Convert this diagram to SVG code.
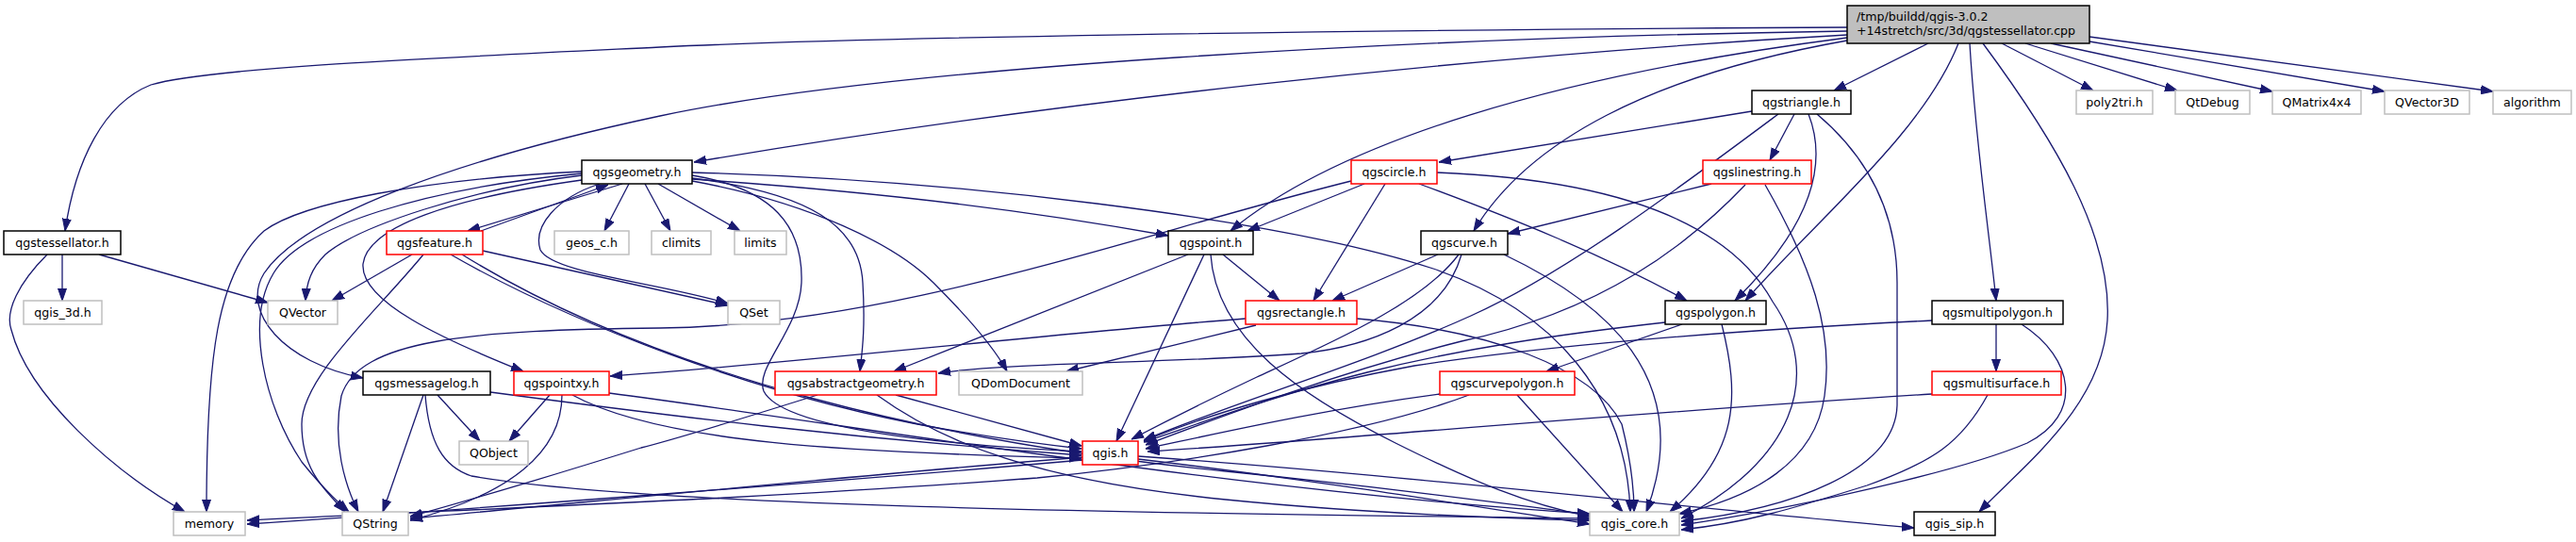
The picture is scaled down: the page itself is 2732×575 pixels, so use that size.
<svg xmlns="http://www.w3.org/2000/svg" width="2732" height="575" viewBox="0 0 2732 575">
<style>
.e{fill:none;stroke:#191970;stroke-width:1.3;marker-end:url(#arr)}
rect{fill:#fff;stroke-width:1.5}
.b rect{stroke:#000}
.r rect{stroke:#ff0000}
.g rect{stroke:#bfbfbf}
.root rect{fill:#bfbfbf;stroke:#000}
text{font-family:"DejaVu Sans","Liberation Sans",sans-serif;font-size:12.6px;fill:#000;text-anchor:middle}
.root text{text-anchor:start}
</style>
<defs>
<marker id="arr" viewBox="0 0 13 10" refX="13" refY="5" markerWidth="13" markerHeight="10" markerUnits="userSpaceOnUse" orient="auto">
<path d="M0,0.5 L13,5 L0,9.5 z" fill="#191970" stroke="#191970" stroke-width="1"/>
</marker>
</defs>
<rect x="0" y="0" width="2732" height="575" style="fill:#fff;stroke:none"/>
<g id="edges">
<!-- root -->
<path class="e" d="M1959,29 C1400,32 900,40 700,50 C450,62 220,72 160,90 C110,110 80,170 69,245"/>
<path class="e" d="M1959,37 C1550,60 1100,110 736,172"/>
<path class="e" d="M1959,33 C1500,40 950,70 700,123 C480,170 320,230 280,290 C255,330 300,385 385,401"/>
<path class="e" d="M1959,40 C1650,80 1420,150 1305,245"/>
<path class="e" d="M1959,43 C1750,80 1620,150 1563,245"/>
<path class="e" d="M2045,46 L1945,96"/>
<path class="e" d="M2077,46 C2040,140 1930,230 1851,319"/>
<path class="e" d="M2089,46 C2095,150 2110,250 2117,319"/>
<path class="e" d="M2103,46 C2180,150 2240,250 2235,340 C2230,430 2150,490 2099,543"/>
<path class="e" d="M2123,46 L2220,96"/>
<path class="e" d="M2148,46 L2309,96"/>
<path class="e" d="M2175,46 L2410,97"/>
<path class="e" d="M2216,44 L2529,97"/>
<path class="e" d="M2216,39 L2644,97"/>
<!-- qgstriangle -->
<path class="e" d="M1858,118 L1526,172"/>
<path class="e" d="M1903,121 L1877,170"/>
<path class="e" d="M1886,121 C1780,200 1660,290 1560,335 C1450,385 1300,430 1213,467"/>
<path class="e" d="M1918,121 C1945,190 1900,260 1840,319"/>
<path class="e" d="M1927,121 C1985,170 2012,230 2012,300 L2012,430 C2010,500 1900,540 1783,553"/>
<!-- qgscircle -->
<path class="e" d="M1447,195 L1323,245"/>
<path class="e" d="M1469,195 L1393,319"/>
<path class="e" d="M1505,195 C1600,230 1700,270 1789,319"/>
<path class="e" d="M1524,183 C1700,190 1830,230 1880,320 C1935,400 1900,490 1783,550"/>
<path class="e" d="M1433,192 C1200,250 950,345 700,348 C500,350 380,360 362,420 C352,470 366,515 380,543"/>
<!-- qgslinestring -->
<path class="e" d="M1815,195 L1599,248"/>
<path class="e" d="M1851,196 C1790,260 1700,330 1550,362 C1420,395 1300,440 1215,472"/>
<path class="e" d="M1872,196 C1920,280 1945,350 1935,420 C1925,490 1860,528 1781,545"/>
<!-- qgscurve -->
<path class="e" d="M1525,270 L1413,319"/>
<path class="e" d="M1550,270 C1530,340 1450,368 1380,375 C1250,385 1060,385 995,396"/>
<path class="e" d="M1547,270 C1510,320 1420,360 1333,400 C1280,425 1240,445 1200,466"/>
<path class="e" d="M1595,270 C1700,320 1800,400 1746,543"/>
<!-- qgspoint -->
<path class="e" d="M1297,270 L1357,319"/>
<path class="e" d="M1260,270 L948,394"/>
<path class="e" d="M1277,270 L1184,468"/>
<path class="e" d="M1284,270 C1290,360 1380,420 1480,470 C1560,510 1620,535 1686,548"/>
<!-- qgsrectangle -->
<path class="e" d="M1321,338 C1100,355 850,385 647,399"/>
<path class="e" d="M1332,345 L1131,394"/>
<path class="e" d="M1439,338 C1580,350 1690,390 1720,450 C1730,490 1733,520 1733,543"/>
<!-- qgspolygon -->
<path class="e" d="M1784,344 L1640,394"/>
<path class="e" d="M1766,342 C1650,355 1550,370 1450,395 C1350,420 1270,450 1213,469"/>
<path class="e" d="M1826,344 C1845,420 1845,480 1771,543"/>
<!-- qgscurvepolygon -->
<path class="e" d="M1527,418 C1400,435 1300,458 1215,476"/>
<path class="e" d="M1609,419 L1721,543"/>
<path class="e" d="M1558,419 C1450,460 1250,492 1100,507 C800,530 500,540 262,552"/>
<!-- qgsmultipolygon -->
<path class="e" d="M2117,344 L2117,394"/>
<path class="e" d="M2049,340 C1850,350 1650,365 1500,388 C1380,410 1280,440 1213,468"/>
<path class="e" d="M2144,344 C2200,380 2210,440 2150,470 C2080,500 1900,540 1783,557"/>
<!-- qgsmultisurface -->
<path class="e" d="M2049,418 C1700,440 1400,468 1217,479"/>
<path class="e" d="M2108,419 C2080,470 2050,490 1980,515 C1900,540 1850,555 1783,562"/>
<!-- qgsabstractgeometry -->
<path class="e" d="M950,419 L1147,473"/>
<path class="e" d="M930,419 C1000,470 1100,510 1300,530 C1450,545 1600,550 1686,552"/>
<path class="e" d="M867,419 C800,440 720,465 680,475 C600,500 500,530 435,548"/>
<!-- qgsgeometry -->
<path class="e" d="M660,195 L496,245"/>
<path class="e" d="M667,195 L641,245"/>
<path class="e" d="M684,195 L711,245"/>
<path class="e" d="M698,195 L785,245"/>
<path class="e" d="M734,190 C950,205 1100,225 1239,250"/>
<path class="e" d="M734,183 C1000,190 1350,230 1520,285 C1650,330 1725,420 1729,543"/>
<path class="e" d="M734,189 C860,205 912,240 915,300 C918,350 914,375 912,394"/>
<path class="e" d="M734,192 C860,215 950,260 990,300 C1030,340 1055,370 1068,394"/>
<path class="e" d="M734,186 C820,200 852,240 850,300 C848,350 800,390 810,415 C830,455 1000,472 1147,479"/>
<path class="e" d="M636,195 C590,210 565,240 573,265 C585,290 700,300 772,322"/>
<path class="e" d="M617,191 C480,210 390,240 385,280 C382,320 470,360 555,394"/>
<path class="e" d="M617,186 C500,200 380,240 345,270 C330,285 325,300 324,319"/>
<path class="e" d="M617,184 C450,200 320,240 290,290 C260,340 280,430 320,490 C340,515 355,530 370,543"/>
<path class="e" d="M617,182 C450,190 320,215 280,245 C230,290 219,380 219,543"/>
<!-- qgsfeature -->
<path class="e" d="M510,245 L645,196"/>
<path class="e" d="M437,270 L352,319"/>
<path class="e" d="M512,266 L772,324"/>
<path class="e" d="M449,270 C400,330 320,400 320,450 C320,500 345,520 366,543"/>
<path class="e" d="M478,270 C600,340 800,420 1000,455 C1070,467 1110,472 1147,476"/>
<path class="e" d="M490,270 C700,400 1000,470 1300,500 C1500,520 1600,535 1686,546"/>
<!-- qgstessellator -->
<path class="e" d="M66,270 L66,319"/>
<path class="e" d="M105,270 L284,321"/>
<path class="e" d="M50,270 C20,300 5,330 12,350 C30,420 120,500 196,543"/>
<!-- qgsmessagelog -->
<path class="e" d="M449,419 L406,543"/>
<path class="e" d="M464,419 L509,468"/>
<path class="e" d="M520,416 C700,440 900,465 1147,483"/>
<path class="e" d="M451,419 C455,470 470,495 500,505 C700,540 1300,545 1686,550"/>
<!-- qgspointxy -->
<path class="e" d="M583,419 L540,468"/>
<path class="e" d="M596,419 C596,480 540,525 435,552"/>
<path class="e" d="M607,419 C700,470 900,480 1147,486"/>
<path class="e" d="M646,417 C900,450 1300,520 1686,545"/>
<!-- qgis.h -->
<path class="e" d="M1148,488 C900,510 500,540 262,556"/>
<path class="e" d="M1148,485 C900,505 600,535 435,550"/>
<path class="e" d="M1207,487 C1400,510 1550,535 1686,556"/>
<path class="e" d="M1207,484 C1500,505 1800,540 2030,560"/>
</g>
<g id="root" class="root"><rect x="1959" y="6" width="257" height="40"/><text x="1969" y="21.5">/tmp/buildd/qgis-3.0.2</text><text x="1969" y="36.5">+14stretch/src/3d/qgstessellator.cpp</text></g>
<g id="qgstriangle" class="b"><rect x="1858" y="96" width="105" height="25"/><text x="1910.5" y="113">qgstriangle.h</text></g>
<g id="poly2tri" class="g"><rect x="2202" y="96" width="81" height="25"/><text x="2242.5" y="113">poly2tri.h</text></g>
<g id="QtDebug" class="g"><rect x="2307" y="96" width="79" height="25"/><text x="2346.5" y="113">QtDebug</text></g>
<g id="QMatrix4x4" class="g"><rect x="2410" y="96" width="94" height="25"/><text x="2457" y="113">QMatrix4x4</text></g>
<g id="QVector3D" class="g"><rect x="2529" y="96" width="90" height="25"/><text x="2574" y="113">QVector3D</text></g>
<g id="algorithm" class="g"><rect x="2644" y="96" width="83" height="25"/><text x="2685.5" y="113">algorithm</text></g>
<g id="qgsgeometry" class="b"><rect x="617" y="170" width="117" height="25"/><text x="675.5" y="187">qgsgeometry.h</text></g>
<g id="qgscircle" class="r"><rect x="1433" y="170" width="91" height="25"/><text x="1478.5" y="187">qgscircle.h</text></g>
<g id="qgslinestring" class="r"><rect x="1806" y="170" width="115" height="25"/><text x="1863.5" y="187">qgslinestring.h</text></g>
<g id="qgstessellator" class="b"><rect x="4" y="245" width="124" height="25"/><text x="66" y="262">qgstessellator.h</text></g>
<g id="qgsfeature" class="r"><rect x="410" y="245" width="102" height="25"/><text x="461" y="262">qgsfeature.h</text></g>
<g id="geos_c" class="g"><rect x="588" y="245" width="79" height="25"/><text x="627.5" y="262">geos_c.h</text></g>
<g id="climits" class="g"><rect x="691" y="245" width="63" height="25"/><text x="722.5" y="262">climits</text></g>
<g id="limits" class="g"><rect x="779" y="245" width="55" height="25"/><text x="806.5" y="262">limits</text></g>
<g id="qgspoint" class="b"><rect x="1239" y="245" width="90" height="25"/><text x="1284" y="262">qgspoint.h</text></g>
<g id="qgscurve" class="b"><rect x="1507" y="245" width="92" height="25"/><text x="1553" y="262">qgscurve.h</text></g>
<g id="qgis_3d" class="g"><rect x="25" y="319" width="83" height="25"/><text x="66.5" y="336">qgis_3d.h</text></g>
<g id="QVector" class="g"><rect x="284" y="319" width="74" height="25"/><text x="321" y="336">QVector</text></g>
<g id="QSet" class="g"><rect x="772" y="319" width="55" height="25"/><text x="799.5" y="336">QSet</text></g>
<g id="qgsrectangle" class="r"><rect x="1321" y="319" width="118" height="25"/><text x="1380" y="336">qgsrectangle.h</text></g>
<g id="qgspolygon" class="b"><rect x="1766" y="319" width="107" height="25"/><text x="1819.5" y="336">qgspolygon.h</text></g>
<g id="qgsmultipolygon" class="b"><rect x="2049" y="319" width="139" height="25"/><text x="2118.5" y="336">qgsmultipolygon.h</text></g>
<g id="qgsmessagelog" class="b"><rect x="385" y="394" width="135" height="25"/><text x="452.5" y="411">qgsmessagelog.h</text></g>
<g id="qgspointxy" class="r"><rect x="545" y="394" width="101" height="25"/><text x="595.5" y="411">qgspointxy.h</text></g>
<g id="qgsabstractgeometry" class="r"><rect x="822" y="394" width="171" height="25"/><text x="907.5" y="411">qgsabstractgeometry.h</text></g>
<g id="QDomDocument" class="g"><rect x="1017" y="394" width="131" height="25"/><text x="1082.5" y="411">QDomDocument</text></g>
<g id="qgscurvepolygon" class="r"><rect x="1527" y="394" width="143" height="25"/><text x="1598.5" y="411">qgscurvepolygon.h</text></g>
<g id="qgsmultisurface" class="r"><rect x="2049" y="394" width="137" height="25"/><text x="2117.5" y="411">qgsmultisurface.h</text></g>
<g id="QObject" class="g"><rect x="487" y="468" width="73" height="25"/><text x="523.5" y="485">QObject</text></g>
<g id="qgis" class="r"><rect x="1148" y="468" width="59" height="25"/><text x="1177.5" y="485">qgis.h</text></g>
<g id="memory" class="g"><rect x="184" y="543" width="76" height="25"/><text x="222" y="560">memory</text></g>
<g id="QString" class="g"><rect x="363" y="543" width="70" height="25"/><text x="398" y="560">QString</text></g>
<g id="qgis_core" class="g"><rect x="1686" y="543" width="95" height="25"/><text x="1733.5" y="560">qgis_core.h</text></g>
<g id="qgis_sip" class="b"><rect x="2030" y="543" width="86" height="25"/><text x="2073" y="560">qgis_sip.h</text></g>
</svg>
